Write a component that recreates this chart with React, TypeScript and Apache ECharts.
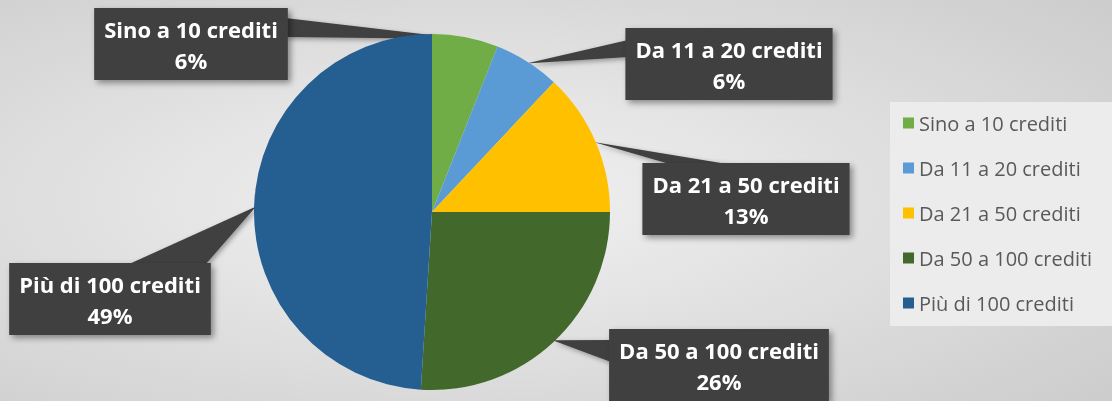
import React, { useEffect, useRef } from "react";
import * as echarts from "echarts";

const CATEGORIES = [
  "Sino a 10 crediti",
  "Da 11 a 20 crediti",
  "Da 21 a 50 crediti",
  "Da 50 a 100 crediti",
  "Più di 100 crediti",
];
const VALUES = [6, 6, 13, 26, 49];
const COLORS = ["#70ad47", "#5b9bd5", "#ffc000", "#43682b", "#255e91"];

// layout: label box centres and wedge base offsets (relative to box centre)
const LABEL_POS: [number, number][] = [
  [191, 44],
  [729, 64],
  [746, 199],
  [719, 365],
  [110, 299],
];
const WEDGE_BASE: [number, number][][] = [
  [[94, -26], [94, -7]],
  [[-101, -24], [-101, -7]],
  [[-73, -34], [-13, -34]],
  [[-108, -25], [-108, -3]],
  [[17, -34], [95, -34]],
];

const CX = 432;
const CY = 212;
const R = 178;

export default function App() {
  const ref = useRef<HTMLDivElement>(null);
  useEffect(() => {
    if (!ref.current) return;
    const chart = echarts.init(ref.current, undefined, { renderer: "svg" });
    const total = VALUES.reduce((a, b) => a + b, 0);
    let cum = 0;
    const wedges = VALUES.map((v, i) => {
      const mid = ((cum + v / 2) / total) * Math.PI * 2;
      cum += v;
      const tip = [CX + (R - 2) * Math.sin(mid), CY - (R - 2) * Math.cos(mid)];
      const [lx, ly] = LABEL_POS[i];
      const pts = [
        [lx + WEDGE_BASE[i][0][0], ly + WEDGE_BASE[i][0][1]],
        tip,
        [lx + WEDGE_BASE[i][1][0], ly + WEDGE_BASE[i][1][1]],
      ];
      return {
        type: "polygon",
        z: 1,
        silent: true,
        shape: { points: pts },
        style: {
          fill: "#404040",
          shadowBlur: 5,
          shadowColor: "rgba(0,0,0,0.35)",
          shadowOffsetX: 2,
          shadowOffsetY: 2,
        },
      };
    });

    chart.setOption({
      animation: false,
      graphic: [
        {
          type: "rect",
          z: 0,
          silent: true,
          shape: { x: 0, y: 0, width: 1112, height: 401 },
          style: {
            fill: new echarts.graphic.RadialGradient(0.42, 0.5, 0.75, [
              { offset: 0, color: "#f2f2f2" },
              { offset: 1, color: "#cdcdcd" },
            ]),
          },
        },
        ...wedges,
      ],
      legend: {
        orient: "vertical",
        left: 890,
        top: 102,
        width: 222,
        data: CATEGORIES,
        icon: "rect",
        itemWidth: 11,
        itemHeight: 11,
        itemGap: 25,
        padding: [11, 30, 13, 13],
        backgroundColor: "#ececec",
        textStyle: {
          fontFamily: "Open Sans",
          fontSize: 20,
          color: "#595959",
          lineHeight: 20,
        },
      },
      series: [
        {
          type: "pie",
          z: 2,
          center: [CX, CY],
          radius: R,
          startAngle: 90,
          clockwise: true,
          percentPrecision: 0,
          data: CATEGORIES.map((name, i) => ({
            name,
            value: VALUES[i],
            itemStyle: { color: COLORS[i] },
          })),
          labelLine: { show: false },
          label: {
            show: true,
            position: "inside",
            overflow: "none",
            formatter: "{b}\n{d}%",
            color: "#ffffff",
            fontFamily: "Open Sans",
            fontWeight: "bold",
            fontSize: 22,
            lineHeight: 31,
            align: "center",
            backgroundColor: "#404040",
            padding: [5, 10, 5, 10],
            shadowBlur: 6,
            shadowColor: "rgba(0,0,0,0.4)",
            shadowOffsetX: 3,
            shadowOffsetY: 3,
          },
          labelLayout: (params: any) => ({
            x: LABEL_POS[params.dataIndex][0],
            y: LABEL_POS[params.dataIndex][1],
            align: "center",
            verticalAlign: "middle",
            hideOverlap: false,
          }),
          emphasis: { disabled: true },
        },
      ],
    });
    return () => chart.dispose();
  }, []);
  return (
    <div
      ref={ref}
      style={{ position: "fixed", left: 0, top: 0, width: 1112, height: 401 }}
    />
  );
}
